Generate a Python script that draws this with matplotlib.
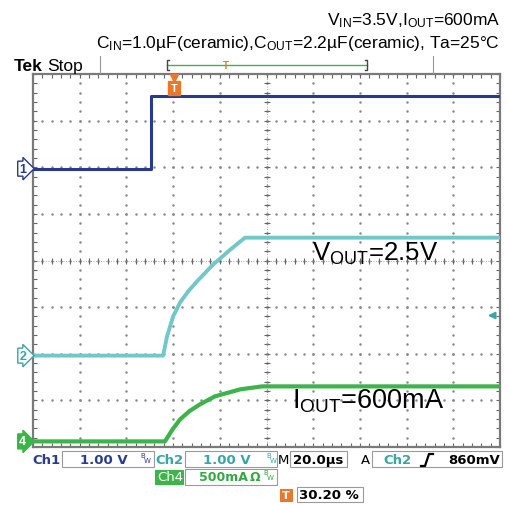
import numpy as np
import matplotlib
matplotlib.use("Agg")
import matplotlib.pyplot as plt
from matplotlib.patches import Rectangle
from matplotlib.lines import Line2D
from matplotlib.transforms import blended_transform_factory

plt.rcParams['font.family'] = ['Liberation Sans', 'DejaVu Sans']
plt.rcParams['mathtext.default'] = 'regular'

W, H = 510, 506

# ── scope settings ──
TIME_DIV = 20.0          # µs/div
N_XDIV, N_YDIV = 10, 8
ch1_scale = 1.0          # V/div
ch2_scale = 1.0          # V/div
ch4_scale = 500.0        # mA/div
ch1_gnd, ch2_gnd, ch4_gnd = 5.97, 1.96, 0.12   # ground markers, div from bottom
trig_pos = 30.20         # % of record
trig_level = 0.86        # V on Ch2

# ── waveforms ──
ch1_t = [0.0, 50.4, 50.4, 200.0]
ch1_v = [0.0, 0.0, 1.56, 1.56]
ch2_t = [0.0, 55.7, 57.4, 60.0, 63.0, 66.5, 70.2, 77.1, 84.4, 90.8, 200.0]
ch2_v = [0.0, 0.0, 0.41, 0.84, 1.14, 1.38, 1.59, 1.95, 2.27, 2.53, 2.53]
ch4_t = [0.0, 56.5, 59.9, 63.0, 67.0, 71.5, 77.9, 88.7, 98.1, 200.0]
ch4_i = [0, 0, 134, 236, 325, 397, 483, 558, 590, 590]

C1, C1T = '#263a8f', '#2b3c8c'
C2, C2T = '#72c8c8', '#38a6a6'
C4, C4T = '#3cb44a', '#34a843'
ORANGE = '#e8782a'
GRID = '#8a8a8a'


def fx(x):
    return x / W


def fy(y):
    return 1 - y / H


fig = plt.figure(figsize=(W / 100, H / 100), dpi=100)
ax = fig.add_axes([fx(33), fy(448), 467 / W, 373 / H])
t_end = TIME_DIV * N_XDIV
ax.set_xlim(0, t_end)
ax.set_ylim(0, N_YDIV)

# graticule
xdots = np.arange(0, t_end + 0.01, TIME_DIV / 5)
ydots = np.arange(0, N_YDIV + 0.001, 0.2)
for k in range(1, N_XDIV):
    ax.plot(np.full(len(ydots), k * TIME_DIV), ydots, ls='none', marker='.',
            ms=1.6, color=GRID, zorder=1)
for k in range(1, N_YDIV):
    ax.plot(xdots, np.full(len(xdots), k), ls='none', marker='.',
            ms=1.6, color=GRID, zorder=1)
ax.plot(xdots, np.full(len(xdots), N_YDIV / 2), ls='none', marker='|',
        ms=5, mew=0.8, color='#666666', zorder=1)
ax.plot(np.full(len(ydots), t_end / 2), ydots, ls='none', marker='_',
        ms=5, mew=0.8, color='#666666', zorder=1)
ax.axhline(N_YDIV / 2, color=GRID, lw=0.6, ls=(0, (1, 2)), zorder=1)
ax.axvline(t_end / 2, color=GRID, lw=0.6, ls=(0, (1, 2)), zorder=1)

ax.set_xticks(np.arange(0, t_end + 0.01, TIME_DIV))
ax.set_xticks(xdots, minor=True)
ax.set_yticks(np.arange(0, N_YDIV + 0.01, 1))
ax.set_yticks(ydots, minor=True)
ax.tick_params(which='both', direction='in', length=3, width=0.8, color='#666666',
               top=True, right=True, labelbottom=False, labelleft=False)
for s in ax.spines.values():
    s.set_color('#7a7a7a')
    s.set_linewidth(1.6)

# traces
ax.plot(ch1_t, ch1_gnd + np.array(ch1_v) / ch1_scale, color=C1, lw=2.2, zorder=3)
ax.plot(ch2_t, ch2_gnd + np.array(ch2_v) / ch2_scale, color=C2, lw=2.8, zorder=3)
ax.plot(ch4_t, ch4_gnd + np.array(ch4_i) / ch4_scale, color=C4, lw=3.0, zorder=3)

# labels in the screen
bt = blended_transform_factory(ax.transAxes, ax.transData)
ax.text(0.598, ch2_gnd + 2.05, r'V$_{OUT}$=2.5V', fontsize=18.5, color='black',
        transform=bt, va='baseline', zorder=4)
ax.text(0.555, ch4_gnd + 0.72, r'I$_{OUT}$=600mA', fontsize=19.5, color='black',
        transform=bt, va='baseline', zorder=4)

# ground markers
for lab, g, col, fill, tc in [('1', ch1_gnd, C1, 'white', C1),
                              ('2', ch2_gnd, C2T, 'white', C2T),
                              ('4', ch4_gnd, C4, C4, 'white')]:
    ax.text(-0.022, g, lab, transform=bt, ha='center', va='center', fontsize=9,
            fontweight='bold', color=tc, clip_on=False,
            bbox=dict(boxstyle='rarrow,pad=0.12', fc=fill, ec=col, lw=1.0))

# trigger position marker
tp = trig_pos / 100 * t_end
tt = blended_transform_factory(ax.transData, ax.transAxes)
ax.plot([tp], [0.99], marker='v', ms=6, color=ORANGE, transform=tt, clip_on=False, zorder=5)
ax.text(tp, 0.962, 'T', transform=tt, ha='center', va='center', fontsize=8,
        fontweight='bold', color='white', zorder=5,
        bbox=dict(boxstyle='square,pad=0.2', fc=ORANGE, ec=ORANGE))

# trigger level arrow (right edge)
ax.annotate('', xy=(0.968, ch2_gnd + trig_level), xytext=(0.99, ch2_gnd + trig_level),
            xycoords=bt, textcoords=bt,
            arrowprops=dict(arrowstyle='-|>', color=C2T, lw=1.4, mutation_scale=10))

# ── header ──
fig.text(fx(500), fy(25), r'V$_{IN}$=3.5V,I$_{OUT}$=600mA', ha='right', va='baseline',
         fontsize=12.5)
fig.text(fx(500), fy(48), r'C$_{IN}$=1.0µF(ceramic),C$_{OUT}$=2.2µF(ceramic), Ta=25°C',
         ha='right', va='baseline', fontsize=12.5)
fig.text(fx(14), fy(71), 'Tek', fontsize=12.5, fontweight='bold', va='baseline')
fig.text(fx(47), fy(71), 'Stop', fontsize=12.5, va='baseline')

# record view bar
for xx in (100, 433):
    fig.add_artist(Line2D([fx(xx), fx(xx)], [fy(57), fy(74)], color='#999999', lw=0.8))
fig.add_artist(Line2D([fx(167), fx(367)], [fy(66), fy(66)], color=C4, lw=1.0))
for xx, d in ((167, 1), (367, -1)):
    fig.add_artist(Line2D([fx(xx + 2 * d), fx(xx), fx(xx), fx(xx + 2 * d)],
                          [fy(61), fy(61), fy(71), fy(71)], color='#444444', lw=1.0))
fig.text(fx(226), fy(66), 'T', ha='center', va='center', fontsize=7, fontweight='bold',
         color=ORANGE)

# ── status line ──
def box(x0, y0, x1, y1, fc='white', ec='#9a9a9a'):
    fig.add_artist(Rectangle((fx(x0), fy(y1)), fx(x1) - fx(x0), fy(y0) - fy(y1),
                             transform=fig.transFigure, fc=fc, ec=ec, lw=0.8))


def stxt(x, y, s, color='black', size=9.5, ha='left', weight='bold'):
    fig.text(fx(x), fy(y), s, color=color, fontsize=size, ha=ha, va='center',
             fontweight=weight, family=['DejaVu Sans'])


def bw(x, y, color):
    fig.text(fx(x), fy(y - 3), 'B', color=color, fontsize=5, ha='left', va='center',
             family=['DejaVu Sans'])
    fig.text(fx(x + 4), fy(y + 2), 'W', color=color, fontsize=5, ha='left', va='center',
             family=['DejaVu Sans'])


box(62, 452, 154, 468)
box(185, 452, 277, 468)
box(290, 452, 347, 468)
box(372, 452, 502, 468)
box(185, 470, 277, 486)
box(297, 488, 363, 503)
box(155, 471, 183, 485, fc=C4, ec=C4)
box(280, 490, 292, 502, fc=ORANGE, ec=ORANGE)

stxt(32, 461, 'Ch1', C1T)
stxt(80, 461, '1.00 V', C1T)
bw(140, 459, C1T)
stxt(155, 461, 'Ch2', C2T)
stxt(203, 461, '1.00 V', C2T)
bw(266, 459, C2T)
stxt(278, 461, 'M', 'black', weight='normal')
stxt(293, 461, '20.0µs', 'black')
stxt(361, 461, 'A', 'black', weight='normal')
stxt(383, 461, 'Ch2', C2T)
stxt(500, 461, '860mV', 'black', ha='right')
fig.add_artist(Line2D([fx(421), fx(425), fx(429), fx(433)],
                      [fy(467), fy(467), fy(455), fy(455)], color='black', lw=1.6))
stxt(157, 478, 'Ch4', 'white', weight='normal')
stxt(248, 478, '500mA', C4T, size=9, ha='right')
stxt(250, 478, 'Ω', C4T, size=9)
bw(263, 476, C4T)
stxt(286, 496, 'T', 'white', ha='center', size=8)
stxt(299, 496, '30.20 %', 'black')

fig.savefig('out.png', dpi=100)
